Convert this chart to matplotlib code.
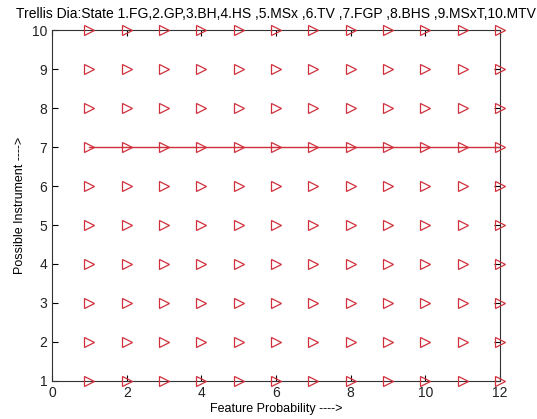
import numpy as np
import matplotlib
matplotlib.use('Agg')
from matplotlib import pyplot as plt

plt.rcParams['font.family'] = ['Liberation Sans', 'DejaVu Sans']

# trellis states and feature steps
steps = [1, 2, 3, 4, 5, 6, 7, 8, 9, 10, 11, 12]
states = [1, 2, 3, 4, 5, 6, 7, 8, 9, 10]
path_state = [7, 7, 7, 7, 7, 7, 7, 7, 7, 7, 7, 7]
xticks = [0, 2, 4, 6, 8, 10, 12]

fig = plt.figure(figsize=(5.37, 4.19), dpi=100)
ax = fig.add_axes([0.097, 0.091, 0.834, 0.837])

# grid of states
for s in states:
    ax.plot(steps, [s] * len(steps), linestyle='none', marker='>',
            markersize=7, markerfacecolor='none', markeredgecolor='#d0303c',
            markeredgewidth=0.9, clip_on=False, zorder=3)

# decoded path
ax.plot(steps, path_state, color='#d0303c', linewidth=1.0, zorder=2)

ax.set_xlim(0, 12)
ax.set_ylim(1, 10)
ax.set_xticks(xticks)
ax.set_yticks(states)
ax.tick_params(direction='in', top=True, right=True, length=4, labelsize=10,
               labelcolor='#222222')
for sp in ax.spines.values():
    sp.set_color('#333333')

ax.set_xlabel('Feature Probability ---->', fontsize=9, labelpad=2)
ax.set_ylabel('Possible Instrument ---->', fontsize=9, labelpad=4)
ax.set_title('Trellis Dia:State 1.FG,2.GP,3.BH,4.HS ,5.MSx ,6.TV ,7.FGP ,8.BHS ,9.MSxT,10.MTV',
             fontsize=10, pad=9)

fig.savefig('out.png', dpi=100)
